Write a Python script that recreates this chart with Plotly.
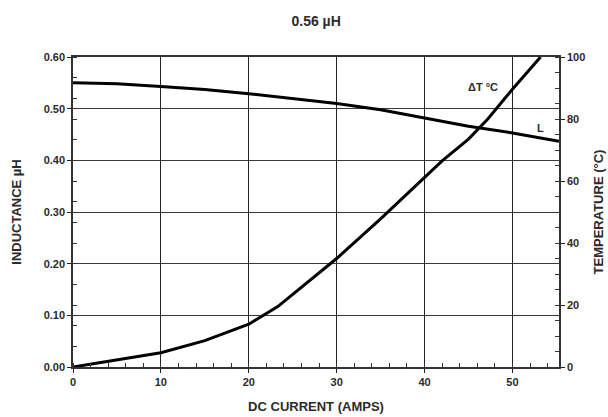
import plotly.graph_objects as go

# DC current (A) vs inductance (µH)
current_L = [0, 5, 10, 15, 20, 25, 30, 35, 40, 45, 50, 55.3]
inductance = [0.550, 0.548, 0.543, 0.537, 0.529, 0.520, 0.510, 0.498, 0.482, 0.466, 0.453, 0.437]

# DC current (A) vs temperature rise (°C)
current_T = [0, 5, 10, 15, 20, 23.3, 25, 30, 35, 37.5, 40, 42, 45, 47.2, 50, 53.2]
temp_rise = [0, 2.2, 4.6, 8.5, 13.8, 19.5, 23.5, 35, 47.8, 54.5, 61.2, 66.5, 73.5, 80, 89.6, 100]

x_ticks = [0, 10, 20, 30, 40, 50]
l_ticks = [0.0, 0.1, 0.2, 0.3, 0.4, 0.5, 0.6]
t_ticks = [0, 20, 40, 60, 80, 100]

FONT = "Liberation Sans, Arial, Helvetica, sans-serif"
INK = "#2b2b2b"
tick_font = dict(family=FONT, size=11, color=INK, weight=700)
title_font = dict(family=FONT, size=13, color=INK, weight=700)

fig = go.Figure()
fig.add_trace(go.Scatter(x=current_L, y=inductance, mode="lines",
                         line=dict(color="#000", width=3), yaxis="y",
                         showlegend=False, hoverinfo="skip"))
fig.add_trace(go.Scatter(x=current_T, y=temp_rise, mode="lines",
                         line=dict(color="#000", width=3), yaxis="y2",
                         showlegend=False, hoverinfo="skip"))

fig.update_layout(
    width=608, height=417,
    margin=dict(l=73, r=49, t=57, b=50),
    paper_bgcolor="white", plot_bgcolor="white",
    title=dict(text="0.56 µH", x=0.52, xanchor="center", y=0.95, yanchor="middle",
               font=dict(family=FONT, size=14, color=INK, weight=700)),
    xaxis=dict(
        range=[0, 55.3], tickvals=x_ticks, ticktext=[str(v) for v in x_ticks],
        ticks="outside", ticklen=4, tickcolor="#222", tickwidth=1,
        showgrid=True, gridcolor="#222", gridwidth=1,
        showline=True, linecolor="#333", linewidth=1.5, mirror=True,
        zeroline=False, tickfont=tick_font, automargin=False,
        minor=dict(ticks="inside", dtick=2, tick0=0, ticklen=4, tickcolor="#333",
                   showgrid=False),
        title=dict(text="DC CURRENT (AMPS)", font=title_font, standoff=15),
    ),
    yaxis=dict(
        range=[0, 0.6], tickvals=l_ticks, ticktext=[f"{v:.2f}" for v in l_ticks],
        ticks="outside", ticklen=4, tickcolor="#222",
        showgrid=True, gridcolor="#3a3a3a", gridwidth=1,
        showline=True, linecolor="#333", linewidth=1.5,
        zeroline=False, tickfont=tick_font, automargin=False,
        minor=dict(ticks="inside", dtick=0.04, tick0=0, ticklen=4, tickcolor="#333",
                   showgrid=False),
        title=dict(text="INDUCTANCE µH", font=title_font, standoff=19),
    ),
    yaxis2=dict(
        range=[0, 100], tickvals=t_ticks, ticktext=[str(v) for v in t_ticks],
        overlaying="y", side="right",
        ticks="outside", ticklen=4, tickcolor="#222",
        showgrid=False, showline=True, linecolor="#333", linewidth=1.5,
        zeroline=False, tickfont=tick_font, automargin=False,
        minor=dict(ticks="inside", dtick=5, tick0=0, ticklen=4, tickcolor="#333",
                   showgrid=False),
        title=dict(text="TEMPERATURE (°C)", font=title_font, standoff=10),
    ),
    annotations=[
        dict(text="ΔT °C", x=46.6, y=90.4, xref="x", yref="y2", showarrow=False,
             font=dict(family=FONT, size=11, color=INK, weight=700)),
        dict(text="L", x=53.2, y=0.462, xref="x", yref="y", showarrow=False,
             font=dict(family=FONT, size=11, color=INK, weight=700)),
    ],
)

fig.write_html("out.html")
